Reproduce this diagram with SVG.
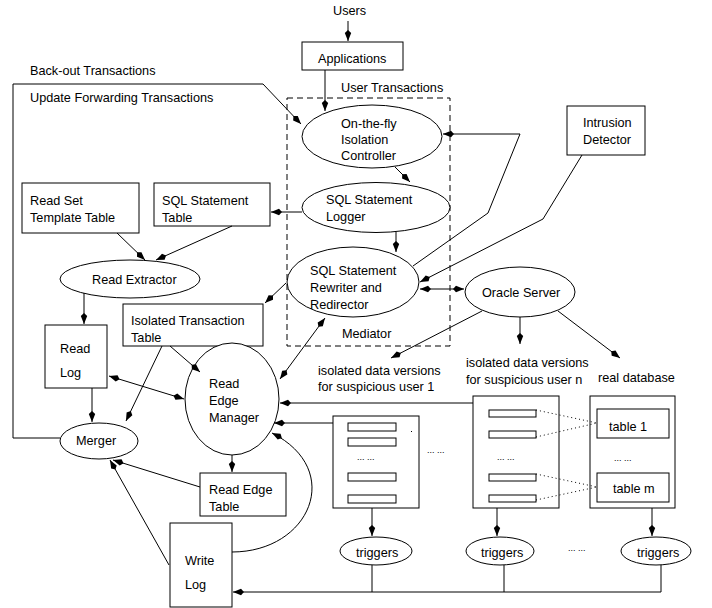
<svg xmlns="http://www.w3.org/2000/svg" width="712" height="608" viewBox="0 0 712 608">
<style>
text{font-family:"Liberation Sans",Arial,sans-serif;font-size:12.7px;fill:#000}
.n{fill:#fff;stroke:#000;stroke-width:1}
.c{fill:none;stroke:#000;stroke-width:1}
.a{marker-end:url(#ah)}
.b{marker-start:url(#ah);marker-end:url(#ah)}
.d{fill:none;stroke:#000;stroke-width:1;stroke-dasharray:1,3}
.dots{font-size:9px}
</style>
<defs>
<marker id="ah" markerUnits="userSpaceOnUse" markerWidth="13" markerHeight="8" refX="12" refY="4" orient="auto-start-reverse">
<path d="M12,4 L4,0.8 L1,4 L4,7.2 Z" fill="#000"/>
</marker>
</defs>
<rect width="712" height="608" fill="#fff"/>

<g id="labels">
<text x="333" y="15">Users</text>
<text x="30" y="75">Back-out Transactions</text>
<text x="30" y="102">Update Forwarding Transactions</text>
<text x="341" y="92">User Transactions</text>
<text x="318" y="375">isolated data versions</text>
<text x="318" y="391">for suspicious user 1</text>
<text x="466" y="367">isolated data versions</text>
<text x="466" y="384">for suspicious user n</text>
<text x="598" y="382">real database</text>
<text class="dots" x="427" y="453">... ...</text>
<text class="dots" x="568" y="551">... ...</text>
</g>

<g id="mediator">
<rect x="287" y="98" width="163" height="248" fill="none" stroke="#000" stroke-width="1" stroke-dasharray="6,4"/>
<text x="342" y="338">Mediator</text>
</g>

<g id="applications">
<rect class="n" x="302" y="42" width="101" height="28"/>
<text x="318" y="63">Applications</text>
</g>

<g id="isolation-controller">
<ellipse class="n" cx="372" cy="136.5" rx="70" ry="31.5"/>
<text x="341" y="128">On-the-fly</text>
<text x="341" y="144">Isolation</text>
<text x="341" y="160">Controller</text>
</g>

<g id="sql-logger">
<ellipse class="n" cx="376" cy="207.5" rx="74" ry="25"/>
<text x="326" y="204">SQL Statement</text>
<text x="326" y="221">Logger</text>
</g>

<g id="rewriter">
<ellipse class="n" cx="353" cy="282" rx="66" ry="35"/>
<text x="310" y="275">SQL Statement</text>
<text x="310" y="292">Rewriter and</text>
<text x="310" y="309">Redirector</text>
</g>

<g id="intrusion-detector">
<rect class="n" x="567" y="106" width="78" height="49"/>
<text x="583" y="127">Intrusion</text>
<text x="583" y="144">Detector</text>
</g>

<g id="oracle">
<ellipse class="n" cx="520" cy="292" rx="55" ry="25"/>
<text x="482" y="297">Oracle Server</text>
</g>

<g id="read-set-table">
<rect class="n" x="22" y="183" width="117" height="50"/>
<text x="30" y="205">Read Set</text>
<text x="30" y="222">Template Table</text>
</g>

<g id="sql-table">
<rect class="n" x="154" y="183" width="116" height="43"/>
<text x="162" y="205">SQL Statement</text>
<text x="162" y="222">Table</text>
</g>

<g id="read-extractor">
<ellipse class="n" cx="130" cy="279" rx="70" ry="19"/>
<text x="92" y="284">Read Extractor</text>
</g>

<g id="read-log">
<rect class="n" x="45" y="325" width="62" height="63"/>
<text x="60" y="353">Read</text>
<text x="60" y="377">Log</text>
</g>

<g id="isolated-transaction-table">
<rect class="n" x="123" y="304" width="140" height="42"/>
<text x="131" y="325">Isolated Transaction</text>
<text x="131" y="342">Table</text>
</g>

<g id="read-edge-manager">
<ellipse class="n" cx="232" cy="399" rx="47" ry="56"/>
<text x="209" y="388">Read</text>
<text x="209" y="405">Edge</text>
<text x="209" y="422">Manager</text>
</g>

<g id="merger">
<ellipse class="n" cx="99" cy="441" rx="39" ry="18"/>
<text x="76" y="445">Merger</text>
</g>

<g id="read-edge-table">
<rect class="n" x="200" y="473" width="86" height="43"/>
<text x="209" y="494">Read Edge</text>
<text x="209" y="511">Table</text>
</g>

<g id="write-log">
<rect class="n" x="170" y="523" width="62" height="84"/>
<text x="185" y="565">Write</text>
<text x="185" y="589">Log</text>
</g>

<g id="versions-user1">
<rect class="n" x="333" y="416" width="86" height="92"/>
<rect class="n" x="348" y="423" width="48" height="8"/>
<rect class="n" x="348" y="438" width="48" height="8"/>
<text class="dots" x="357" y="460">... ...</text>
<rect class="n" x="348" y="473" width="48" height="8"/>
<rect class="n" x="348" y="495" width="48" height="8"/>
<rect x="411" y="431" width="1" height="1" fill="#000"/>
</g>

<g id="versions-usern">
<rect class="n" x="473" y="396" width="86" height="112"/>
<rect class="n" x="489" y="410" width="47" height="7"/>
<rect class="n" x="489" y="431" width="47" height="7"/>
<text class="dots" x="497" y="460">... ...</text>
<rect class="n" x="489" y="474" width="47" height="7"/>
<rect class="n" x="489" y="495" width="47" height="7"/>
</g>

<g id="real-database">
<rect class="n" x="590" y="396" width="85" height="112"/>
<rect class="n" x="597" y="409" width="72" height="29"/>
<text x="609" y="431">table 1</text>
<text class="dots" x="614" y="461">... ...</text>
<rect class="n" x="597" y="473" width="72" height="29"/>
<text x="613" y="493">table m</text>
</g>

<g id="triggers-1">
<ellipse class="n" cx="376" cy="551" rx="36" ry="14"/>
<text x="356" y="557">triggers</text>
</g>
<g id="triggers-n">
<ellipse class="n" cx="500" cy="551" rx="34" ry="14"/>
<text x="481" y="557">triggers</text>
</g>
<g id="triggers-real">
<ellipse class="n" cx="656" cy="551" rx="35" ry="14"/>
<text x="637" y="557">triggers</text>
</g>

<g id="connectors">
<path class="c a" d="M348,21 L348,41"/>
<path class="c a" d="M325,70 L325,111"/>
<path class="c a" d="M60,438 L13,438 L13,84 L263,84 L301,124"/>
<path class="c a" d="M395,167 L410,182"/>
<path class="c a" d="M302,212 L271,212"/>
<path class="c a" d="M117,233 L145,260"/>
<path class="c a" d="M232,226 L156,260"/>
<path class="c a" d="M396,232 L396,252"/>
<path class="c a" d="M413,266 L488,213 L520,134 L443,134"/>
<path class="c a" d="M582,155 L543,219 L420,282"/>
<path class="c b" d="M420,289 L464,289"/>
<path class="c a" d="M482,311 L391,358"/>
<path class="c a" d="M520,317 L520,344"/>
<path class="c a" d="M558,311 L620,358"/>
<path class="c a" d="M286,283 L265,303"/>
<path class="c b" d="M325,318 L280,379"/>
<path class="c a" d="M170,346 L200,372"/>
<path class="c a" d="M162,346 L126,421"/>
<path class="c a" d="M84,293 L84,324"/>
<path class="c b" d="M109,376 L184,399"/>
<path class="c a" d="M92,388 L92,422"/>
<path class="c a" d="M232,455 L232,472"/>
<path class="c a" d="M200,487 L113,460"/>
<path class="c a" d="M169,565 L110,460"/>
<path class="c a" d="M232,552 C310,552 345,470 272,433"/>
<path class="c a" d="M473,403 L280,403"/>
<path class="c a" d="M333,423 L274,423"/>
<path class="c a" d="M372,508 L372,536"/>
<path class="c a" d="M497,508 L497,536"/>
<path class="c a" d="M652,508 L652,536"/>
<path class="c" d="M372,565 L372,592"/>
<path class="c" d="M504,565 L504,592"/>
<path class="c a" d="M661,565 L661,592 L233,592"/>
<path class="d" d="M536,410 L597,423"/>
<path class="d" d="M536,437 L597,423"/>
<path class="d" d="M536,474 L597,487"/>
<path class="d" d="M536,500 L597,487"/>
</g>
</svg>
